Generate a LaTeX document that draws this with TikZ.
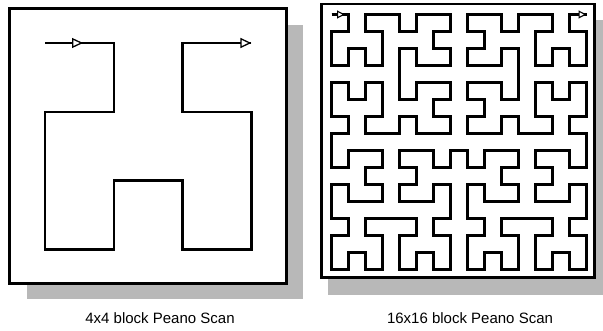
\documentclass[tikz,border=0pt]{standalone}
\usepackage{fontspec}
\setmainfont{Liberation Sans}
\usetikzlibrary{arrows.meta, lindenmayersystems}

% Hilbert-type scan, mirrored so that it runs downwards from the top left
\pgfdeclarelindenmayersystem{Peano scan}{
  \rule{A -> -BF+AFA+FB-}
  \rule{B -> +AF-BFB-FA+}
}

\begin{document}
\begin{tikzpicture}[x=1pt, y=-1pt,
    frame/.style={draw, line width=2.6pt, fill=white},
    shadow/.style={fill=black!28},
    scan/.style={line width=2.5pt, line join=miter},
    arrow/.style={line width=2.5pt,
      -{Triangle[fill=white, length=11pt, width=10pt, line width=1.3pt]}},
    small arrow/.style={line width=2pt,
      -{Triangle[fill=white, length=8pt, width=8pt, line width=1.1pt]}},
    caption/.style={font=\fontsize{15}{17}\selectfont}
]
\useasboundingbox (0,0) rectangle (603,331);

% 4x4 block
\fill[shadow] (27,25) rectangle (303,299);
\draw[frame] (9.5,8.5) rectangle (286.5,283.5);
\begin{scope}[shift={(45,43)}]
  \draw[scan, l-system={Peano scan, axiom=A, order=2, angle=90, step=68.8pt}]
    (0,0) lindenmayer system;
\end{scope}
\coordinate (a1) at (45,43);
\coordinate (a2) at (83,43);
\coordinate (a3) at (182.6,43);
\coordinate (a4) at (251.4,43);
\draw[arrow] (a1) -- (a2);
\draw[arrow] (a3) -- (a4);
\node[caption] (cap4) at (160,318) {4x4 block Peano Scan};

% 16x16 block
\fill[shadow] (328,20) rectangle (603,295);
\draw[frame] (321.5,4) rectangle (594.5,277.5);
\begin{scope}[shift={(331.5,14.5)}]
  \draw[scan, l-system={Peano scan, axiom=A, order=4, angle=90, step=17pt}]
    (0,0) lindenmayer system;
\end{scope}
\coordinate (b1) at (331.5,14.5);
\coordinate (b2) at (345,14.5);
\coordinate (b3) at (569.5,14.5);
\coordinate (b4) at (586.5,14.5);
\draw[small arrow] (b1) -- (b2);
\draw[small arrow] (b3) -- (b4);
\node[caption] (cap16) at (470,318) {16x16 block Peano Scan};
\end{tikzpicture}
\end{document}
